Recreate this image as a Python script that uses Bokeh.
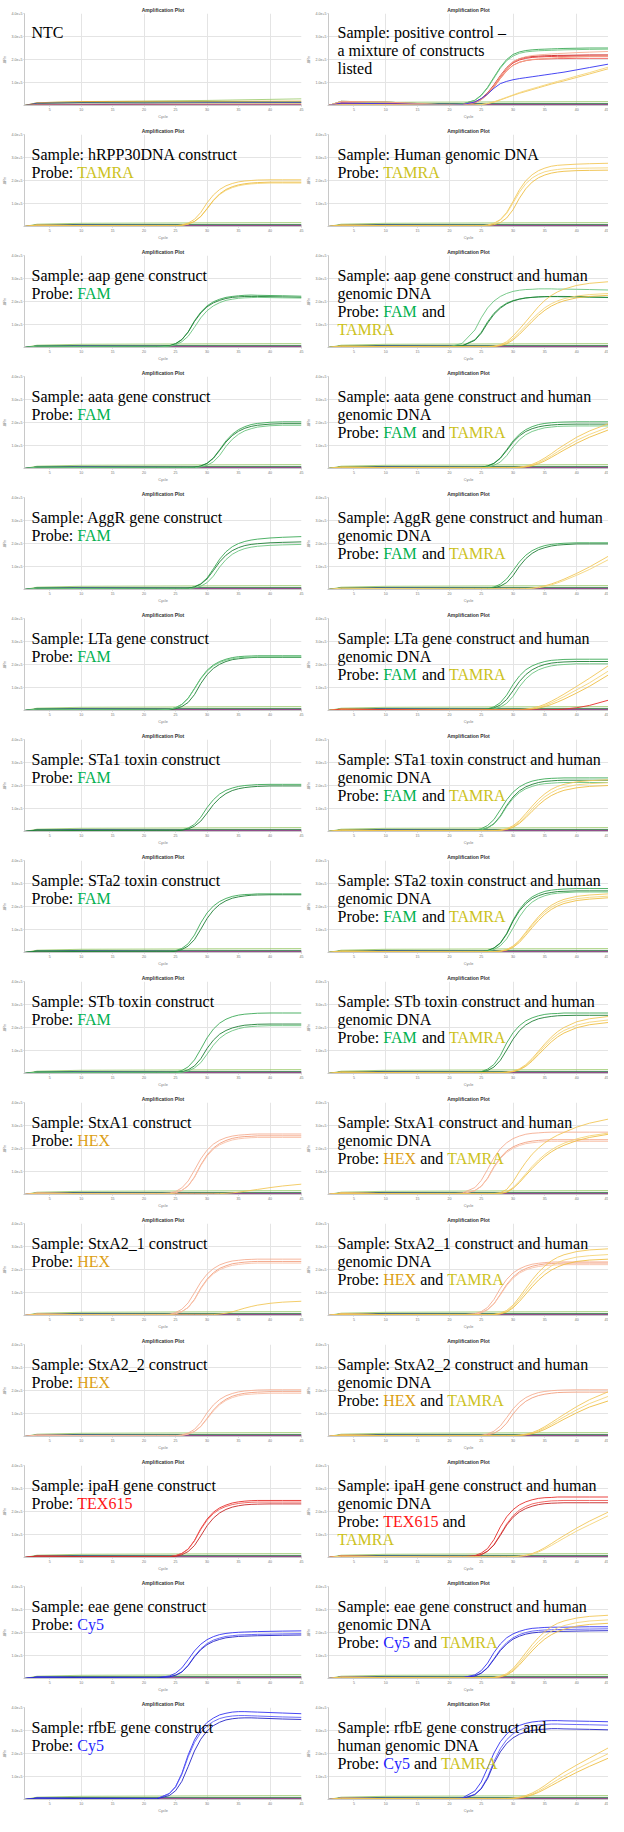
import re
import sys
from bokeh.plotting import figure
from bokeh.models import Range1d, FixedTicker, Label
from bokeh.layouts import gridplot
from bokeh.embed import file_html
from bokeh.resources import INLINE

# ---------------- data (ΔRn in units of 1e5) ----------------
EARLY_CYC = [1, 3, 10]
AMP_CYC = [20, 22, 24, 25, 26, 27, 28, 29, 30, 31, 32, 33, 34, 35, 36, 37, 38, 40, 42, 45]
FLAT_CYC = [1, 3, 10, 20, 30, 45]
X_TICKS = [5, 10, 15, 20, 25, 30, 35, 40, 45]
X_GRID = [10, 20, 30, 40]
Y_TICKS = [0, 1, 2, 3, 4]
Y_LABELS = ["", "1.0e+5", "2.0e+5", "3.0e+5", "4.0e+5"]

E0 = [0.0, 0.06, 0.04]
E_PC1 = [0.0, 0.18, 0.15]
E_PC2 = [0.0, 0.10, 0.08]
E_LOW = [0.0, 0.03, 0.03]

BASE_STD = [
    ("lime", [0.0, 0.10, 0.14, 0.15, 0.16, 0.17]),
    ("dgreen", [0.0, 0.07, 0.09, 0.09, 0.09, 0.09]),
    ("blue", [0.0, 0.06, 0.07, 0.06, 0.05, 0.05]),
    ("purple", [0.0, 0.03, 0.03, 0.03, 0.03, 0.03]),
    ("red", [0.0, 0.01, 0.01, 0.01, 0.01, 0.01]),
]
BASE_NTC = [
    ("lime", [0.0, 0.12, 0.17, 0.19, 0.22, 0.29]),
    ("orange", [0.0, 0.12, 0.17, 0.18, 0.18, 0.19]),
    ("dgreen", [0.0, 0.08, 0.13, 0.14, 0.15, 0.15]),
    ("blue", [0.0, 0.10, 0.11, 0.10, 0.12, 0.13]),
    ("yellow", [0.0, 0.05, 0.06, 0.06, 0.07, 0.08]),
    ("purple", [0.0, 0.03, 0.04, 0.05, 0.05, 0.05]),
    ("red", [0.0, 0.01, 0.01, 0.01, 0.01, 0.01]),
]

P01L = []
P01R = [
    ("g1", E_PC1, [0.02, 0.06, 0.23, 0.45, 0.79, 1.23, 1.66, 2.0, 2.22, 2.33, 2.39, 2.42, 2.44, 2.45, 2.46, 2.47, 2.48, 2.49, 2.5, 2.5]),
    ("g3", E_PC1, [0.02, 0.06, 0.22, 0.43, 0.76, 1.19, 1.62, 1.95, 2.15, 2.27, 2.33, 2.36, 2.38, 2.39, 2.4, 2.41, 2.42, 2.43, 2.44, 2.45]),
    ("r3", E_PC2, [0.02, 0.04, 0.15, 0.3, 0.55, 0.9, 1.3, 1.65, 1.9, 2.03, 2.1, 2.13, 2.15, 2.16, 2.17, 2.18, 2.18, 2.19, 2.2, 2.2]),
    ("r1", E_PC2, [0.02, 0.04, 0.14, 0.28, 0.52, 0.85, 1.25, 1.6, 1.85, 1.98, 2.05, 2.09, 2.11, 2.12, 2.13, 2.14, 2.14, 2.15, 2.15, 2.15]),
    ("r2", E_PC2, [0.02, 0.03, 0.12, 0.25, 0.48, 0.8, 1.18, 1.52, 1.75, 1.88, 1.95, 1.99, 2.01, 2.02, 2.03, 2.04, 2.04, 2.05, 2.05, 2.05]),
    ("s1", E_PC1, [0.02, 0.04, 0.14, 0.28, 0.52, 0.86, 1.27, 1.63, 1.9, 2.04, 2.12, 2.17, 2.2, 2.22, 2.24, 2.26, 2.27, 2.3, 2.32, 2.35]),
    ("s2", E_PC1, [0.02, 0.04, 0.13, 0.26, 0.48, 0.8, 1.17, 1.5, 1.75, 1.88, 1.95, 2.0, 2.02, 2.04, 2.06, 2.08, 2.09, 2.11, 2.13, 2.15]),
    ("b1", E_PC2, [0.02, 0.04, 0.15, 0.3, 0.5, 0.75, 0.95, 1.05, 1.12, 1.17, 1.21, 1.25, 1.29, 1.33, 1.37, 1.41, 1.45, 1.55, 1.65, 1.8]),
    ("y1", E_LOW, [0.01, 0.01, 0.02, 0.04, 0.08, 0.15, 0.24, 0.34, 0.44, 0.53, 0.61, 0.69, 0.77, 0.85, 0.93, 1.0, 1.07, 1.22, 1.37, 1.6]),
    ("y2", E_LOW, [0.01, 0.01, 0.02, 0.04, 0.09, 0.16, 0.26, 0.36, 0.46, 0.56, 0.65, 0.73, 0.81, 0.89, 0.97, 1.05, 1.12, 1.28, 1.43, 1.67]),
]
P02L = [
    ("y1", E0, [0.03, 0.03, 0.03, 0.03, 0.07, 0.15, 0.31, 0.61, 1.03, 1.37, 1.61, 1.77, 1.87, 1.94, 1.98, 2.0, 2.02, 2.03, 2.03, 2.03]),
    ("y2", E0, [0.03, 0.03, 0.03, 0.03, 0.05, 0.1, 0.22, 0.43, 0.76, 1.12, 1.39, 1.57, 1.69, 1.77, 1.82, 1.85, 1.87, 1.89, 1.89, 1.89]),
    ("y3", E0, [0.03, 0.03, 0.03, 0.03, 0.05, 0.11, 0.22, 0.44, 0.78, 1.14, 1.42, 1.61, 1.73, 1.81, 1.86, 1.89, 1.91, 1.93, 1.93, 1.93]),
]
P02R = [
    ("y1", E0, [0.03, 0.03, 0.03, 0.03, 0.06, 0.14, 0.3, 0.61, 1.09, 1.6, 1.99, 2.25, 2.43, 2.54, 2.62, 2.66, 2.68, 2.71, 2.73, 2.75]),
    ("y2", E0, [0.03, 0.03, 0.03, 0.03, 0.06, 0.13, 0.28, 0.57, 1.02, 1.49, 1.86, 2.11, 2.27, 2.38, 2.44, 2.48, 2.51, 2.53, 2.54, 2.55]),
    ("y3", E0, [0.03, 0.03, 0.03, 0.03, 0.03, 0.08, 0.17, 0.37, 0.73, 1.23, 1.64, 1.93, 2.12, 2.24, 2.32, 2.37, 2.4, 2.43, 2.44, 2.45]),
]
P03L = [
    ("g1", E0, [0.03, 0.03, 0.08, 0.17, 0.35, 0.68, 1.16, 1.54, 1.81, 1.99, 2.1, 2.18, 2.22, 2.25, 2.27, 2.28, 2.27, 2.26, 2.25, 2.23]),
    ("g2", E0, [0.03, 0.03, 0.07, 0.16, 0.34, 0.67, 1.13, 1.5, 1.77, 1.94, 2.05, 2.13, 2.18, 2.2, 2.22, 2.22, 2.22, 2.21, 2.2, 2.18]),
    ("g3", E0, [0.03, 0.03, 0.05, 0.12, 0.25, 0.49, 0.88, 1.29, 1.6, 1.81, 1.95, 2.05, 2.1, 2.14, 2.16, 2.17, 2.18, 2.17, 2.16, 2.15]),
]
P03R = [
    ("g3", E0, [0.03, 0.18, 0.76, 1.29, 1.72, 2.02, 2.22, 2.35, 2.44, 2.49, 2.52, 2.53, 2.55, 2.55, 2.55, 2.54, 2.54, 2.53, 2.52, 2.5]),
    ("g1", E0, [0.03, 0.07, 0.34, 0.66, 1.12, 1.49, 1.75, 1.93, 2.04, 2.11, 2.16, 2.18, 2.2, 2.21, 2.21, 2.21, 2.2, 2.2, 2.19, 2.17]),
    ("g2", E0, [0.03, 0.07, 0.31, 0.62, 1.06, 1.44, 1.71, 1.9, 2.02, 2.1, 2.15, 2.18, 2.2, 2.21, 2.22, 2.22, 2.22, 2.21, 2.2, 2.18]),
    ("y1", E0, [0.03, 0.03, 0.03, 0.03, 0.04, 0.06, 0.12, 0.25, 0.5, 0.8, 1.12, 1.45, 1.78, 2.05, 2.26, 2.42, 2.54, 2.7, 2.79, 2.86]),
    ("y2", E0, [0.03, 0.03, 0.03, 0.03, 0.03, 0.05, 0.1, 0.2, 0.4, 0.66, 0.95, 1.24, 1.5, 1.73, 1.9, 2.03, 2.12, 2.24, 2.3, 2.35]),
    ("y3", E0, [0.03, 0.03, 0.03, 0.03, 0.03, 0.04, 0.08, 0.16, 0.33, 0.57, 0.85, 1.13, 1.4, 1.62, 1.8, 1.93, 2.03, 2.16, 2.22, 2.27]),
]
P04L = [
    ("g1", E0, [0.03, 0.03, 0.03, 0.03, 0.03, 0.03, 0.05, 0.11, 0.23, 0.46, 0.82, 1.2, 1.49, 1.69, 1.82, 1.91, 1.96, 2.01, 2.03, 2.03]),
    ("g2", E0, [0.03, 0.03, 0.03, 0.03, 0.03, 0.03, 0.05, 0.11, 0.22, 0.44, 0.79, 1.15, 1.43, 1.62, 1.75, 1.83, 1.88, 1.93, 1.95, 1.95]),
    ("g3", E0, [0.03, 0.03, 0.03, 0.03, 0.03, 0.03, 0.03, 0.07, 0.14, 0.29, 0.57, 0.96, 1.27, 1.49, 1.64, 1.73, 1.8, 1.86, 1.88, 1.88]),
]
P04R = [
    ("g1", E0, [0.03, 0.03, 0.03, 0.05, 0.11, 0.23, 0.46, 0.82, 1.2, 1.49, 1.69, 1.82, 1.91, 1.96, 1.99, 2.01, 2.02, 2.03, 2.03, 2.03]),
    ("g2", E0, [0.03, 0.03, 0.03, 0.05, 0.11, 0.22, 0.44, 0.78, 1.14, 1.42, 1.61, 1.73, 1.81, 1.86, 1.89, 1.91, 1.92, 1.93, 1.93, 1.93]),
    ("g3", E0, [0.03, 0.03, 0.03, 0.03, 0.07, 0.14, 0.28, 0.56, 0.94, 1.25, 1.47, 1.61, 1.7, 1.77, 1.8, 1.83, 1.84, 1.85, 1.85, 1.85]),
    ("y1", E0, [0.03, 0.03, 0.03, 0.03, 0.03, 0.03, 0.03, 0.03, 0.04, 0.06, 0.1, 0.18, 0.3, 0.46, 0.64, 0.84, 1.02, 1.36, 1.63, 1.95]),
    ("y2", E0, [0.03, 0.03, 0.03, 0.03, 0.03, 0.03, 0.03, 0.03, 0.03, 0.05, 0.08, 0.15, 0.25, 0.39, 0.55, 0.73, 0.9, 1.22, 1.48, 1.8]),
    ("y3", E0, [0.03, 0.03, 0.03, 0.03, 0.03, 0.03, 0.03, 0.03, 0.03, 0.04, 0.07, 0.12, 0.21, 0.33, 0.48, 0.64, 0.8, 1.1, 1.36, 1.68]),
]
P05L = [
    ("g1", E0, [0.03, 0.03, 0.03, 0.03, 0.03, 0.05, 0.12, 0.25, 0.5, 0.9, 1.32, 1.64, 1.86, 2.0, 2.09, 2.15, 2.19, 2.24, 2.27, 2.3]),
    ("g2", E0, [0.03, 0.03, 0.03, 0.03, 0.03, 0.05, 0.11, 0.23, 0.46, 0.82, 1.2, 1.49, 1.69, 1.82, 1.91, 1.96, 1.99, 2.03, 2.05, 2.07]),
    ("g3", E0, [0.03, 0.03, 0.03, 0.03, 0.03, 0.03, 0.07, 0.14, 0.3, 0.58, 0.98, 1.3, 1.53, 1.68, 1.78, 1.84, 1.88, 1.92, 1.94, 1.96]),
]
P05R = [
    ("g1", E0, [0.03, 0.03, 0.03, 0.03, 0.05, 0.11, 0.23, 0.46, 0.82, 1.2, 1.49, 1.69, 1.82, 1.91, 1.96, 1.99, 2.01, 2.03, 2.03, 2.03]),
    ("g2", E0, [0.03, 0.03, 0.03, 0.03, 0.03, 0.07, 0.15, 0.3, 0.6, 1.01, 1.34, 1.57, 1.73, 1.82, 1.89, 1.93, 1.95, 1.98, 1.98, 1.98]),
    ("y1", E0, [0.03, 0.03, 0.03, 0.03, 0.03, 0.03, 0.03, 0.03, 0.03, 0.03, 0.04, 0.06, 0.1, 0.16, 0.24, 0.34, 0.45, 0.7, 0.98, 1.45]),
    ("y2", E0, [0.03, 0.03, 0.03, 0.03, 0.03, 0.03, 0.03, 0.03, 0.03, 0.03, 0.03, 0.05, 0.08, 0.13, 0.2, 0.29, 0.39, 0.62, 0.87, 1.3]),
]
P06L = [
    ("g1", E0, [0.03, 0.03, 0.05, 0.12, 0.27, 0.54, 0.96, 1.4, 1.75, 1.98, 2.13, 2.23, 2.3, 2.34, 2.36, 2.37, 2.38, 2.38, 2.38, 2.38]),
    ("g2", E0, [0.03, 0.03, 0.03, 0.08, 0.17, 0.35, 0.69, 1.17, 1.56, 1.83, 2.01, 2.13, 2.21, 2.25, 2.28, 2.3, 2.31, 2.31, 2.31, 2.31]),
    ("g3", E0, [0.03, 0.03, 0.05, 0.12, 0.26, 0.52, 0.94, 1.38, 1.71, 1.94, 2.09, 2.19, 2.25, 2.29, 2.31, 2.32, 2.33, 2.33, 2.33, 2.33]),
]
P06R = [
    ("g1", E0, [0.03, 0.03, 0.03, 0.03, 0.07, 0.16, 0.34, 0.67, 1.13, 1.5, 1.77, 1.94, 2.05, 2.13, 2.18, 2.2, 2.22, 2.23, 2.23, 2.23]),
    ("g2", E0, [0.03, 0.03, 0.03, 0.03, 0.05, 0.11, 0.24, 0.48, 0.86, 1.26, 1.56, 1.77, 1.91, 2.0, 2.06, 2.09, 2.11, 2.13, 2.13, 2.13]),
    ("g3", E0, [0.03, 0.03, 0.03, 0.03, 0.03, 0.07, 0.15, 0.31, 0.61, 1.03, 1.37, 1.61, 1.77, 1.87, 1.94, 1.98, 2.0, 2.03, 2.03, 2.03]),
    ("y1", E0, [0.03, 0.03, 0.03, 0.03, 0.03, 0.03, 0.03, 0.03, 0.03, 0.04, 0.06, 0.1, 0.17, 0.27, 0.4, 0.55, 0.71, 1.05, 1.4, 1.95]),
    ("y2", E0, [0.03, 0.03, 0.03, 0.03, 0.03, 0.03, 0.03, 0.03, 0.03, 0.03, 0.05, 0.08, 0.14, 0.22, 0.33, 0.46, 0.6, 0.9, 1.2, 1.72]),
    ("y3", E0, [0.03, 0.03, 0.03, 0.03, 0.03, 0.03, 0.03, 0.03, 0.03, 0.03, 0.04, 0.06, 0.1, 0.17, 0.26, 0.37, 0.49, 0.76, 1.05, 1.55]),
    ("r1", E0, [0.02, 0.02, 0.02, 0.02, 0.02, 0.02, 0.02, 0.02, 0.02, 0.02, 0.02, 0.02, 0.02, 0.02, 0.03, 0.04, 0.06, 0.12, 0.22, 0.45]),
]
P07L = [
    ("g1", E0, [0.03, 0.03, 0.03, 0.03, 0.07, 0.15, 0.31, 0.62, 1.04, 1.38, 1.63, 1.79, 1.89, 1.96, 2.0, 2.02, 2.04, 2.05, 2.05, 2.05]),
    ("g2", E0, [0.03, 0.03, 0.03, 0.03, 0.05, 0.11, 0.23, 0.45, 0.8, 1.17, 1.45, 1.65, 1.78, 1.86, 1.91, 1.94, 1.96, 1.98, 1.98, 1.98]),
]
P07R = [
    ("g1", E0, [0.03, 0.03, 0.05, 0.12, 0.26, 0.52, 0.94, 1.38, 1.71, 1.94, 2.09, 2.19, 2.25, 2.29, 2.31, 2.32, 2.33, 2.33, 2.33, 2.33]),
    ("g2", E0, [0.03, 0.03, 0.03, 0.07, 0.16, 0.34, 0.67, 1.13, 1.5, 1.77, 1.94, 2.05, 2.13, 2.18, 2.2, 2.22, 2.23, 2.23, 2.23, 2.23]),
    ("g3", E0, [0.03, 0.03, 0.03, 0.07, 0.16, 0.32, 0.64, 1.08, 1.44, 1.69, 1.86, 1.96, 2.04, 2.08, 2.1, 2.12, 2.13, 2.13, 2.13, 2.13]),
    ("y1", E0, [0.03, 0.03, 0.03, 0.03, 0.03, 0.04, 0.06, 0.12, 0.25, 0.47, 0.78, 1.1, 1.4, 1.64, 1.83, 1.96, 2.05, 2.16, 2.21, 2.25]),
    ("y2", E0, [0.03, 0.03, 0.03, 0.03, 0.03, 0.04, 0.05, 0.1, 0.21, 0.4, 0.68, 0.98, 1.27, 1.51, 1.69, 1.83, 1.92, 2.03, 2.08, 2.12]),
    ("y3", E0, [0.03, 0.03, 0.03, 0.03, 0.03, 0.03, 0.05, 0.09, 0.18, 0.35, 0.6, 0.88, 1.15, 1.38, 1.56, 1.69, 1.79, 1.9, 1.96, 2.0]),
]
P08L = [
    ("g1", E0, [0.03, 0.03, 0.03, 0.08, 0.18, 0.38, 0.76, 1.29, 1.72, 2.02, 2.22, 2.35, 2.44, 2.49, 2.52, 2.53, 2.55, 2.55, 2.55, 2.55]),
    ("g2", E0, [0.03, 0.03, 0.03, 0.05, 0.13, 0.28, 0.56, 1.01, 1.48, 1.84, 2.09, 2.25, 2.36, 2.42, 2.46, 2.49, 2.5, 2.51, 2.51, 2.51]),
]
P08R = [
    ("g1", E0, [0.03, 0.03, 0.03, 0.03, 0.09, 0.2, 0.42, 0.83, 1.41, 1.87, 2.2, 2.42, 2.56, 2.66, 2.71, 2.74, 2.76, 2.78, 2.78, 2.78]),
    ("g2", E0, [0.03, 0.03, 0.03, 0.03, 0.08, 0.19, 0.4, 0.8, 1.36, 1.81, 2.12, 2.34, 2.47, 2.56, 2.61, 2.65, 2.66, 2.68, 2.68, 2.68]),
    ("g3", E0, [0.03, 0.03, 0.03, 0.03, 0.06, 0.13, 0.29, 0.59, 1.06, 1.55, 1.93, 2.19, 2.36, 2.47, 2.54, 2.58, 2.6, 2.63, 2.63, 2.63]),
    ("y1", E0, [0.03, 0.03, 0.03, 0.03, 0.03, 0.04, 0.06, 0.13, 0.28, 0.53, 0.88, 1.23, 1.56, 1.84, 2.05, 2.2, 2.31, 2.44, 2.5, 2.55]),
    ("y2", E0, [0.03, 0.03, 0.03, 0.03, 0.03, 0.04, 0.06, 0.12, 0.26, 0.5, 0.83, 1.17, 1.49, 1.76, 1.96, 2.11, 2.22, 2.34, 2.4, 2.45]),
    ("y3", E0, [0.03, 0.03, 0.03, 0.03, 0.03, 0.03, 0.05, 0.1, 0.22, 0.44, 0.75, 1.08, 1.39, 1.66, 1.87, 2.02, 2.13, 2.26, 2.32, 2.38]),
]
P09L = [
    ("g1", E0, [0.03, 0.03, 0.03, 0.06, 0.13, 0.29, 0.59, 1.06, 1.55, 1.93, 2.19, 2.36, 2.47, 2.54, 2.58, 2.6, 2.62, 2.63, 2.63, 2.63]),
    ("g2", E0, [0.03, 0.03, 0.03, 0.03, 0.07, 0.16, 0.33, 0.64, 1.09, 1.45, 1.71, 1.87, 1.98, 2.05, 2.1, 2.12, 2.14, 2.15, 2.15, 2.15]),
    ("g3", E0, [0.03, 0.03, 0.03, 0.03, 0.05, 0.11, 0.24, 0.47, 0.84, 1.23, 1.53, 1.73, 1.86, 1.95, 2.01, 2.04, 2.06, 2.08, 2.08, 2.08]),
]
P09R = [
    ("g1", E0, [0.03, 0.03, 0.03, 0.08, 0.19, 0.39, 0.78, 1.33, 1.77, 2.08, 2.29, 2.42, 2.51, 2.57, 2.6, 2.61, 2.63, 2.63, 2.63, 2.63]),
    ("g2", E0, [0.03, 0.03, 0.03, 0.06, 0.13, 0.28, 0.57, 1.02, 1.49, 1.86, 2.11, 2.27, 2.38, 2.44, 2.48, 2.51, 2.52, 2.53, 2.53, 2.53]),
    ("y1", E0, [0.03, 0.03, 0.03, 0.03, 0.03, 0.03, 0.04, 0.06, 0.1, 0.2, 0.38, 0.65, 0.97, 1.29, 1.58, 1.82, 2.0, 2.25, 2.38, 2.48]),
    ("y2", E0, [0.03, 0.03, 0.03, 0.03, 0.03, 0.03, 0.04, 0.05, 0.09, 0.18, 0.35, 0.6, 0.9, 1.2, 1.48, 1.7, 1.87, 2.1, 2.23, 2.33]),
    ("y3", E0, [0.03, 0.03, 0.03, 0.03, 0.03, 0.03, 0.03, 0.05, 0.08, 0.16, 0.31, 0.54, 0.82, 1.1, 1.37, 1.59, 1.76, 1.99, 2.12, 2.22]),
]
P10L = [
    ("s1", E0, [0.03, 0.03, 0.06, 0.13, 0.29, 0.59, 1.06, 1.55, 1.93, 2.19, 2.36, 2.47, 2.54, 2.58, 2.6, 2.62, 2.63, 2.63, 2.63, 2.63]),
    ("s2", E0, [0.03, 0.03, 0.03, 0.08, 0.18, 0.38, 0.76, 1.29, 1.72, 2.02, 2.22, 2.35, 2.44, 2.49, 2.52, 2.53, 2.55, 2.55, 2.55, 2.55]),
    ("s3", E0, [0.03, 0.03, 0.03, 0.08, 0.18, 0.37, 0.74, 1.26, 1.67, 1.97, 2.16, 2.28, 2.37, 2.42, 2.45, 2.47, 2.48, 2.48, 2.48, 2.48]),
    ("y1", E0, [0.03, 0.03, 0.03, 0.03, 0.03, 0.03, 0.03, 0.03, 0.03, 0.03, 0.04, 0.05, 0.07, 0.1, 0.14, 0.18, 0.22, 0.3, 0.37, 0.45]),
]
P10R = [
    ("s1", E0, [0.03, 0.06, 0.3, 0.61, 1.09, 1.6, 1.99, 2.25, 2.43, 2.54, 2.62, 2.66, 2.68, 2.7, 2.71, 2.71, 2.71, 2.71, 2.71, 2.71]),
    ("s2", E0, [0.03, 0.03, 0.17, 0.36, 0.71, 1.21, 1.6, 1.89, 2.07, 2.19, 2.27, 2.32, 2.35, 2.37, 2.38, 2.38, 2.38, 2.38, 2.38, 2.38]),
    ("s3", E0, [0.03, 0.03, 0.17, 0.35, 0.69, 1.17, 1.56, 1.83, 2.01, 2.13, 2.21, 2.25, 2.28, 2.3, 2.31, 2.31, 2.31, 2.31, 2.31, 2.31]),
    ("y1", E0, [0.03, 0.03, 0.03, 0.03, 0.03, 0.04, 0.08, 0.22, 0.55, 1.0, 1.4, 1.75, 2.02, 2.25, 2.43, 2.58, 2.7, 2.93, 3.1, 3.28]),
    ("y2", E0, [0.03, 0.03, 0.03, 0.03, 0.03, 0.03, 0.05, 0.12, 0.3, 0.58, 0.9, 1.22, 1.5, 1.74, 1.94, 2.1, 2.23, 2.42, 2.55, 2.67]),
    ("y3", E0, [0.03, 0.03, 0.03, 0.03, 0.03, 0.03, 0.04, 0.1, 0.26, 0.52, 0.83, 1.13, 1.41, 1.65, 1.85, 2.01, 2.14, 2.34, 2.48, 2.62]),
]
P11L = [
    ("s1", E0, [0.03, 0.03, 0.05, 0.13, 0.27, 0.55, 0.99, 1.45, 1.8, 2.04, 2.2, 2.3, 2.37, 2.4, 2.43, 2.44, 2.45, 2.45, 2.45, 2.45]),
    ("s2", E0, [0.03, 0.03, 0.03, 0.08, 0.17, 0.35, 0.7, 1.19, 1.58, 1.86, 2.05, 2.16, 2.25, 2.29, 2.32, 2.34, 2.35, 2.35, 2.35, 2.35]),
    ("s3", E0, [0.03, 0.03, 0.03, 0.08, 0.17, 0.35, 0.68, 1.16, 1.54, 1.81, 1.99, 2.1, 2.18, 2.22, 2.25, 2.27, 2.28, 2.28, 2.28, 2.28]),
    ("y1", E0, [0.03, 0.03, 0.03, 0.03, 0.03, 0.03, 0.03, 0.03, 0.03, 0.04, 0.06, 0.1, 0.16, 0.24, 0.32, 0.39, 0.45, 0.53, 0.58, 0.62]),
]
P11R = [
    ("s1", E0, [0.03, 0.03, 0.08, 0.17, 0.35, 0.7, 1.18, 1.57, 1.85, 2.03, 2.15, 2.23, 2.27, 2.3, 2.32, 2.33, 2.33, 2.33, 2.33, 2.33]),
    ("s2", E0, [0.03, 0.03, 0.05, 0.12, 0.26, 0.51, 0.92, 1.35, 1.67, 1.9, 2.04, 2.14, 2.2, 2.24, 2.26, 2.27, 2.28, 2.28, 2.28, 2.28]),
    ("s3", E0, [0.03, 0.03, 0.05, 0.12, 0.25, 0.5, 0.89, 1.3, 1.62, 1.84, 1.98, 2.07, 2.13, 2.17, 2.19, 2.2, 2.21, 2.21, 2.21, 2.21]),
    ("y1", E0, [0.03, 0.03, 0.03, 0.03, 0.03, 0.05, 0.1, 0.22, 0.45, 0.8, 1.18, 1.55, 1.88, 2.15, 2.37, 2.53, 2.64, 2.78, 2.85, 2.9]),
    ("y2", E0, [0.03, 0.03, 0.03, 0.03, 0.03, 0.04, 0.08, 0.18, 0.38, 0.7, 1.05, 1.39, 1.7, 1.95, 2.15, 2.3, 2.41, 2.54, 2.6, 2.65]),
    ("y3", E0, [0.03, 0.03, 0.03, 0.03, 0.03, 0.04, 0.07, 0.15, 0.33, 0.61, 0.93, 1.25, 1.54, 1.78, 1.97, 2.11, 2.22, 2.35, 2.41, 2.45]),
]
P12L = [
    ("s1", E0, [0.03, 0.03, 0.03, 0.03, 0.07, 0.15, 0.31, 0.61, 1.03, 1.37, 1.61, 1.77, 1.87, 1.94, 1.98, 2.0, 2.02, 2.03, 2.03, 2.03]),
    ("s2", E0, [0.03, 0.03, 0.03, 0.03, 0.05, 0.11, 0.22, 0.44, 0.79, 1.15, 1.43, 1.62, 1.75, 1.83, 1.88, 1.91, 1.93, 1.95, 1.95, 1.95]),
    ("s3", E0, [0.03, 0.03, 0.03, 0.03, 0.05, 0.1, 0.22, 0.43, 0.76, 1.11, 1.38, 1.57, 1.69, 1.77, 1.82, 1.84, 1.86, 1.88, 1.88, 1.88]),
]
P12R = [
    ("s1", E0, [0.03, 0.03, 0.03, 0.05, 0.11, 0.23, 0.46, 0.82, 1.2, 1.49, 1.69, 1.82, 1.91, 1.96, 1.99, 2.01, 2.02, 2.03, 2.03, 2.03]),
    ("s2", E0, [0.03, 0.03, 0.03, 0.03, 0.07, 0.14, 0.3, 0.58, 0.98, 1.3, 1.53, 1.68, 1.78, 1.84, 1.88, 1.91, 1.92, 1.93, 1.93, 1.93]),
    ("y1", E0, [0.03, 0.03, 0.03, 0.03, 0.03, 0.03, 0.03, 0.03, 0.04, 0.06, 0.1, 0.17, 0.28, 0.43, 0.6, 0.78, 0.96, 1.3, 1.6, 1.95]),
    ("y2", E0, [0.03, 0.03, 0.03, 0.03, 0.03, 0.03, 0.03, 0.03, 0.03, 0.05, 0.08, 0.14, 0.24, 0.37, 0.52, 0.69, 0.85, 1.16, 1.43, 1.75]),
    ("y3", E0, [0.03, 0.03, 0.03, 0.03, 0.03, 0.03, 0.03, 0.03, 0.03, 0.04, 0.07, 0.12, 0.2, 0.31, 0.45, 0.6, 0.75, 1.03, 1.28, 1.55]),
]
P13L = [
    ("r1", E0, [0.03, 0.03, 0.03, 0.08, 0.18, 0.37, 0.74, 1.26, 1.67, 1.97, 2.16, 2.28, 2.37, 2.42, 2.45, 2.47, 2.48, 2.48, 2.48, 2.48]),
    ("r2", E0, [0.03, 0.03, 0.03, 0.08, 0.17, 0.36, 0.72, 1.22, 1.62, 1.91, 2.1, 2.22, 2.3, 2.35, 2.38, 2.4, 2.41, 2.41, 2.41, 2.41]),
    ("r3", E0, [0.03, 0.03, 0.03, 0.05, 0.12, 0.26, 0.52, 0.94, 1.38, 1.71, 1.94, 2.09, 2.19, 2.25, 2.29, 2.31, 2.32, 2.33, 2.33, 2.33]),
]
P13R = [
    ("r1", E0, [0.03, 0.03, 0.08, 0.19, 0.39, 0.78, 1.33, 1.77, 2.08, 2.29, 2.42, 2.51, 2.57, 2.6, 2.61, 2.63, 2.63, 2.63, 2.63, 2.63]),
    ("r2", E0, [0.03, 0.03, 0.05, 0.13, 0.28, 0.56, 1.0, 1.46, 1.82, 2.06, 2.22, 2.33, 2.39, 2.43, 2.46, 2.47, 2.48, 2.48, 2.48, 2.48]),
    ("r3", E0, [0.03, 0.03, 0.05, 0.12, 0.27, 0.54, 0.96, 1.41, 1.75, 1.98, 2.13, 2.23, 2.3, 2.34, 2.36, 2.37, 2.38, 2.38, 2.38, 2.38]),
    ("y1", E0, [0.03, 0.03, 0.03, 0.03, 0.03, 0.03, 0.03, 0.03, 0.04, 0.06, 0.1, 0.17, 0.28, 0.43, 0.6, 0.78, 0.95, 1.28, 1.58, 1.98]),
    ("y2", E0, [0.03, 0.03, 0.03, 0.03, 0.03, 0.03, 0.03, 0.03, 0.03, 0.05, 0.08, 0.14, 0.24, 0.37, 0.52, 0.68, 0.84, 1.15, 1.42, 1.82]),
]
P14L = [
    ("b1", E0, [0.03, 0.03, 0.11, 0.23, 0.46, 0.82, 1.2, 1.49, 1.69, 1.82, 1.91, 1.96, 1.99, 2.01, 2.02, 2.03, 2.04, 2.05, 2.06, 2.07]),
    ("b2", E0, [0.03, 0.03, 0.07, 0.14, 0.29, 0.58, 0.97, 1.29, 1.52, 1.67, 1.76, 1.83, 1.86, 1.89, 1.9, 1.91, 1.92, 1.93, 1.94, 1.95]),
    ("b3", E0, [0.03, 0.03, 0.07, 0.14, 0.28, 0.56, 0.94, 1.25, 1.47, 1.61, 1.7, 1.77, 1.8, 1.83, 1.84, 1.85, 1.86, 1.87, 1.88, 1.89]),
]
P14R = [
    ("b1", E0, [0.03, 0.03, 0.16, 0.34, 0.67, 1.13, 1.5, 1.77, 1.94, 2.05, 2.13, 2.18, 2.2, 2.22, 2.23, 2.23, 2.23, 2.24, 2.25, 2.25]),
    ("b2", E0, [0.03, 0.03, 0.11, 0.24, 0.48, 0.86, 1.26, 1.56, 1.77, 1.91, 2.0, 2.06, 2.09, 2.11, 2.12, 2.13, 2.13, 2.14, 2.15, 2.16]),
    ("b3", E0, [0.03, 0.03, 0.11, 0.23, 0.46, 0.83, 1.21, 1.5, 1.71, 1.84, 1.93, 1.98, 2.01, 2.03, 2.04, 2.05, 2.05, 2.06, 2.07, 2.08]),
    ("y1", E0, [0.03, 0.03, 0.03, 0.03, 0.03, 0.05, 0.1, 0.21, 0.43, 0.76, 1.12, 1.47, 1.78, 2.04, 2.25, 2.4, 2.5, 2.63, 2.7, 2.75]),
    ("y2", E0, [0.03, 0.03, 0.03, 0.03, 0.03, 0.04, 0.08, 0.18, 0.37, 0.67, 1.0, 1.32, 1.61, 1.86, 2.05, 2.2, 2.3, 2.43, 2.5, 2.55]),
    ("y3", E0, [0.03, 0.03, 0.03, 0.03, 0.03, 0.04, 0.07, 0.15, 0.32, 0.59, 0.9, 1.2, 1.48, 1.72, 1.9, 2.04, 2.14, 2.28, 2.35, 2.4]),
]
P15L = [
    ("b1", E0, [0.03, 0.03, 0.26, 0.56, 1.14, 1.94, 2.59, 3.05, 3.35, 3.54, 3.68, 3.75, 3.8, 3.82, 3.82, 3.81, 3.8, 3.78, 3.76, 3.73]),
    ("b2", E0, [0.03, 0.03, 0.25, 0.54, 1.09, 1.86, 2.48, 2.91, 3.21, 3.39, 3.52, 3.59, 3.63, 3.65, 3.65, 3.64, 3.63, 3.61, 3.59, 3.57]),
    ("b3", E0, [0.03, 0.03, 0.17, 0.38, 0.79, 1.43, 2.11, 2.62, 2.98, 3.21, 3.36, 3.46, 3.51, 3.54, 3.55, 3.55, 3.54, 3.52, 3.5, 3.48]),
]
P15R = [
    ("b1", E0, [0.03, 0.06, 0.37, 0.76, 1.37, 2.02, 2.51, 2.85, 3.07, 3.22, 3.31, 3.37, 3.4, 3.42, 3.43, 3.43, 3.42, 3.41, 3.4, 3.38]),
    ("b2", E0, [0.03, 0.03, 0.23, 0.49, 0.97, 1.66, 2.21, 2.6, 2.86, 3.02, 3.13, 3.2, 3.24, 3.26, 3.28, 3.28, 3.27, 3.26, 3.25, 3.23]),
    ("b3", E0, [0.03, 0.03, 0.21, 0.46, 0.91, 1.56, 2.07, 2.44, 2.68, 2.84, 2.94, 3.0, 3.04, 3.06, 3.08, 3.08, 3.07, 3.06, 3.05, 3.03]),
    ("y1", E0, [0.03, 0.03, 0.03, 0.03, 0.03, 0.03, 0.03, 0.04, 0.06, 0.1, 0.17, 0.28, 0.43, 0.61, 0.81, 1.0, 1.18, 1.5, 1.8, 2.25]),
    ("y2", E0, [0.03, 0.03, 0.03, 0.03, 0.03, 0.03, 0.03, 0.03, 0.05, 0.08, 0.14, 0.23, 0.36, 0.52, 0.69, 0.86, 1.02, 1.32, 1.6, 2.0]),
    ("y3", E0, [0.03, 0.03, 0.03, 0.03, 0.03, 0.03, 0.03, 0.03, 0.04, 0.07, 0.12, 0.2, 0.31, 0.45, 0.6, 0.75, 0.9, 1.18, 1.44, 1.8]),
]

T01L = ["NTC"]
T01R = ["Sample: positive control \u2013", "a mixture of constructs", "listed"]
T02L = ["Sample: hRPP30DNA construct", "Probe: [TAMRA]"]
T02R = ["Sample: Human genomic DNA", "Probe: [TAMRA]"]
T03L = ["Sample: aap gene construct", "Probe: [FAM]"]
T03R = ["Sample: aap gene construct and human", "genomic DNA", "Probe: [FAM] and", "[TAMRA]"]
T04L = ["Sample: aata gene construct", "Probe: [FAM]"]
T04R = ["Sample: aata gene construct and human", "genomic DNA", "Probe: [FAM] and [TAMRA]"]
T05L = ["Sample: AggR gene construct", "Probe: [FAM]"]
T05R = ["Sample: AggR gene construct and human", "genomic DNA", "Probe: [FAM] and [TAMRA]"]
T06L = ["Sample: LTa gene construct", "Probe: [FAM]"]
T06R = ["Sample: LTa gene construct and human", "genomic DNA", "Probe: [FAM] and [TAMRA]"]
T07L = ["Sample: STa1 toxin construct", "Probe: [FAM]"]
T07R = ["Sample: STa1 toxin construct and human", "genomic DNA", "Probe: [FAM] and [TAMRA]"]
T08L = ["Sample: STa2 toxin construct", "Probe: [FAM]"]
T08R = ["Sample: STa2 toxin construct and human", "genomic DNA", "Probe: [FAM] and [TAMRA]"]
T09L = ["Sample: STb toxin construct", "Probe: [FAM]"]
T09R = ["Sample: STb toxin construct and human", "genomic DNA", "Probe: [FAM] and [TAMRA]"]
T10L = ["Sample: StxA1 construct", "Probe: [HEX]"]
T10R = ["Sample: StxA1 construct and human", "genomic DNA", "Probe: [HEX] and [TAMRA]"]
T11L = ["Sample: StxA2_1 construct", "Probe: [HEX]"]
T11R = ["Sample: StxA2_1 construct and human", "genomic DNA", "Probe: [HEX] and [TAMRA]"]
T12L = ["Sample: StxA2_2 construct", "Probe: [HEX]"]
T12R = ["Sample: StxA2_2 construct and human", "genomic DNA", "Probe: [HEX] and [TAMRA]"]
T13L = ["Sample: ipaH gene construct", "Probe: [TEX615]"]
T13R = ["Sample: ipaH gene construct and human", "genomic DNA", "Probe: [TEX615] and", "[TAMRA]"]
T14L = ["Sample: eae gene construct", "Probe: [Cy5]"]
T14R = ["Sample: eae gene construct and human", "genomic DNA", "Probe: [Cy5] and [TAMRA]"]
T15L = ["Sample: rfbE gene construct", "Probe: [Cy5]"]
T15R = ["Sample: rfbE gene construct and", "human genomic DNA", "Probe: [Cy5] and [TAMRA]"]

ROWS = [
    ((P01L, BASE_NTC, T01L), (P01R, BASE_STD, T01R)),
    ((P02L, BASE_STD, T02L), (P02R, BASE_STD, T02R)),
    ((P03L, BASE_STD, T03L), (P03R, BASE_STD, T03R)),
    ((P04L, BASE_STD, T04L), (P04R, BASE_STD, T04R)),
    ((P05L, BASE_STD, T05L), (P05R, BASE_STD, T05R)),
    ((P06L, BASE_STD, T06L), (P06R, BASE_STD, T06R)),
    ((P07L, BASE_STD, T07L), (P07R, BASE_STD, T07R)),
    ((P08L, BASE_STD, T08L), (P08R, BASE_STD, T08R)),
    ((P09L, BASE_STD, T09L), (P09R, BASE_STD, T09R)),
    ((P10L, BASE_STD, T10L), (P10R, BASE_STD, T10R)),
    ((P11L, BASE_STD, T11L), (P11R, BASE_STD, T11R)),
    ((P12L, BASE_STD, T12L), (P12R, BASE_STD, T12R)),
    ((P13L, BASE_STD, T13L), (P13R, BASE_STD, T13R)),
    ((P14L, BASE_STD, T14L), (P14R, BASE_STD, T14R)),
    ((P15L, BASE_STD, T15L), (P15R, BASE_STD, T15R)),
]

# ---------------- styles ----------------
COLORS = {
    "g1": "#3DAA58", "g2": "#1F7F36", "g3": "#6CC47F",
    "y1": "#F2C85A", "y2": "#F5D57A", "y3": "#EEBF45",
    "s1": "#F5AE92", "s2": "#F2A07F", "s3": "#F8C2AA",
    "r1": "#E8302C", "r2": "#F05A55", "r3": "#C62828",
    "b1": "#3434F2", "b2": "#5C5CF6", "b3": "#2525C8",
    "lime": "#9DCB6E", "dgreen": "#2E7D32", "blue": "#3949AB",
    "purple": "#8E3B8E", "red": "#D8322E", "orange": "#F0A030", "yellow": "#E8D060",
}
PROBE_COLORS = {"FAM": "#00B050", "TAMRA": "#CCC21C", "HEX": "#DC9E12",
                "TEX615": "#FF1414", "Cy5": "#1E1EFF"}
TEXT_BLACK = "#000000"
# Times / Liberation Serif advance widths (1/1000 em)
TIMES_W = {" ": 250, ":": 278, "_": 500, "\u2013": 500, ".": 250,
           "A": 722, "B": 667, "C": 667, "D": 722, "E": 611, "F": 556, "G": 722, "H": 722,
           "I": 333, "J": 389, "K": 722, "L": 611, "M": 889, "N": 722, "O": 722, "P": 556,
           "Q": 722, "R": 667, "S": 556, "T": 611, "U": 722, "V": 722, "W": 944, "X": 722,
           "Y": 722, "Z": 611,
           "a": 444, "b": 500, "c": 444, "d": 500, "e": 444, "f": 333, "g": 500, "h": 500,
           "i": 278, "j": 278, "k": 500, "l": 278, "m": 778, "n": 500, "o": 500, "p": 500,
           "q": 500, "r": 333, "s": 389, "t": 278, "u": 500, "v": 500, "w": 722, "x": 500,
           "y": 500, "z": 444}
FIG_W = 304
FIG_H = 121
X0, X1 = 1, 45
Y0, Y1 = 0, 4
FONT_PX = 16.0
LINE_PX = 18.0


def text_units(s):
    return sum(TIMES_W.get(ch, 500) for ch in s)


def segments(line):
    parts = re.split(r"\[(\w+)\]", line)
    out = []
    for i, part in enumerate(parts):
        if part:
            out.append((part, PROBE_COLORS[part] if i % 2 == 1 else TEXT_BLACK))
    return out


def panel_font(lines, col):
    avail = 270.0 if col == 1 else 268.0
    widest = max(text_units(line.replace("[", "").replace("]", "")) for line in lines)
    return min(FONT_PX, avail * 1000.0 / widest)


def make_panel(amp, base, lines, col, row_idx):
    p = figure(width=FIG_W, height=FIG_H, output_backend="svg",
               toolbar_location=None, x_range=Range1d(X0, X1), y_range=Range1d(Y0, Y1),
               title="Amplification Plot",
               min_border_left=20 if col == 0 else 23, min_border_right=3 if col == 0 else 0,
               min_border_top=13, min_border_bottom=13)
    p.outline_line_color = None
    p.background_fill_color = "white"
    p.border_fill_color = "white"
    p.title.align = "center"
    p.title.text_font = "Liberation Sans"
    p.title.text_font_size = "5px"
    p.title.text_color = "#333333"
    p.title.standoff = 1
    p.xaxis.ticker = FixedTicker(ticks=X_TICKS)
    p.yaxis.ticker = FixedTicker(ticks=Y_TICKS)
    p.yaxis.major_label_overrides = {t: lab for t, lab in zip(Y_TICKS, Y_LABELS)}
    p.xgrid.ticker = FixedTicker(ticks=X_GRID)
    p.ygrid.ticker = FixedTicker(ticks=Y_TICKS[1:])
    p.grid.grid_line_color = "#e4e4e4"
    p.xaxis.axis_label = "Cycle"
    p.yaxis.axis_label = "\u0394Rn"
    for ax in (p.xaxis[0], p.yaxis[0]):
        ax.axis_line_color = "#c8c8c8"
        ax.major_tick_line_color = "#c8c8c8"
        ax.minor_tick_line_color = None
        ax.major_tick_in = 0
        ax.major_tick_out = 1
        ax.major_label_standoff = 1
        ax.axis_label_standoff = 1
        ax.major_label_text_font = "Liberation Sans"
        ax.major_label_text_font_size = "3.6px"
        ax.major_label_text_color = "#777777"
        ax.axis_label_text_font = "Liberation Sans"
        ax.axis_label_text_font_size = "3.8px"
        ax.axis_label_text_font_style = "normal"
        ax.axis_label_text_color = "#777777"

    for cname, vals in base:
        n = min(len(FLAT_CYC), len(vals))
        p.line(FLAT_CYC[:n], vals[:n], line_color=COLORS[cname], line_width=1, line_alpha=0.85)
    for cname, early, vals in amp:
        if len(vals) != len(AMP_CYC):
            print("length mismatch", cname, len(vals), file=sys.stderr)
        n = min(len(AMP_CYC), len(vals))
        xs = EARLY_CYC + AMP_CYC[:n]
        ys = list(early) + list(vals[:n])
        p.line(xs, ys, line_color=COLORS[cname], line_width=1, line_alpha=0.9)

    font_px = panel_font(lines, col)
    first_px = 19.0 if row_idx == 0 else 20.0
    inset_px = 7 if col == 0 else 9
    for i, line in enumerate(lines):
        off = float(inset_px)
        for txt, color in segments(line):
            lead = len(txt) - len(txt.lstrip(" "))
            shown = txt.strip(" ")
            if shown:
                p.add_layout(Label(x=X0, y=Y1,
                                   x_offset=off + text_units(" " * lead) * font_px / 1000.0,
                                   y_offset=-(first_px + LINE_PX * i),
                                   text=shown, text_font="Liberation Serif",
                                   text_font_size="%.1fpx" % font_px, text_color=color,
                                   text_baseline="alphabetic", text_align="left"))
            off += text_units(txt) * font_px / 1000.0
    return p


grid = []
for r, (left, right) in enumerate(ROWS):
    grid.append([make_panel(*left, 0, r), make_panel(*right, 1, r)])

layout = gridplot(grid, toolbar_location=None)
open("out.html", "w").write(file_html(layout, INLINE))
